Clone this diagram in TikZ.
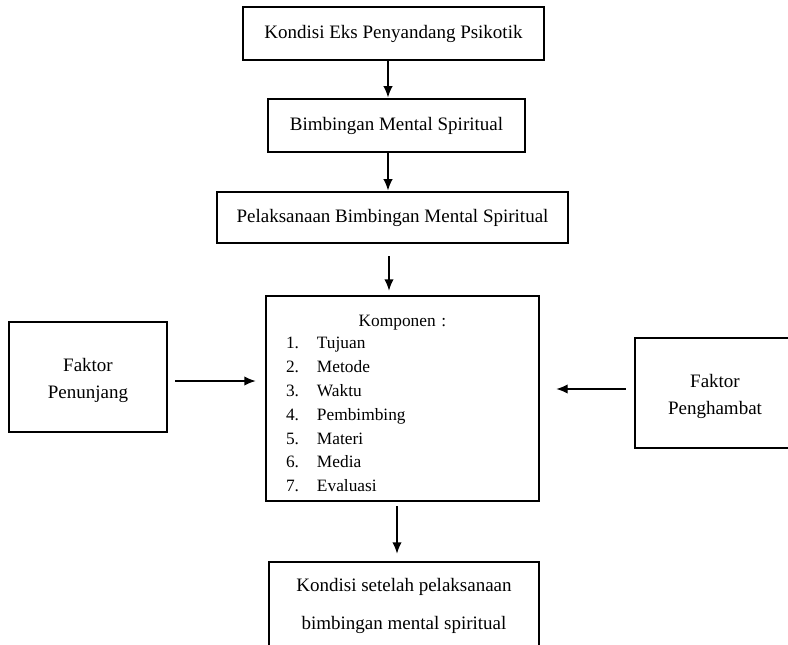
\documentclass[tikz,border=0pt]{standalone}
\usepackage{fontspec}
\setmainfont{Liberation Serif}
\usetikzlibrary{arrows.meta}
\newcommand{\ganjal}[1]{\rule{0pt}{#1}}

\begin{document}
\begin{tikzpicture}[x=0.75pt,y=-0.75pt,>={Latex[length=8.5pt,width=7pt]},
    kotak/.style={draw,line width=2.2pt,inner sep=0pt,align=center,
      font=\fontsize{14.25}{20.25}\selectfont},
    panah/.style={->,line width=1pt}]
    \useasboundingbox (0,0) rectangle (788,645);
    \clip (0,0) rectangle (788,645);
    \node[kotak,minimum width=225.75pt,minimum height=39.75pt] (kondisi)
          at (393.5,33.5) {Kondisi Eks Penyandang Psikotik};
    \node[kotak,minimum width=192.75pt,minimum height=39.75pt] (bimb)
          at (396.5,125.5) {Bimbingan Mental Spiritual};
    \node[kotak,minimum width=263.25pt,minimum height=38.25pt] (pelak)
          at (392.5,217.5) {Pelaksanaan Bimbingan Mental Spiritual};
    \node[kotak,line width=2pt,minimum width=204.75pt,minimum height=153.75pt,
          text width=174.75pt,inner xsep=15pt,align=left,
          font=\fontsize{13}{17.85}\selectfont] (komp) at (402.5,398.5)
      {\ganjal{16.5pt}\makebox[174.75pt]{Komponen :}\\[-1.35pt]
       \makebox[23.25pt][l]{1.}Tujuan\\
       \makebox[23.25pt][l]{2.}Metode\\
       \makebox[23.25pt][l]{3.}Waktu\\
       \makebox[23.25pt][l]{4.}Pembimbing\\
       \makebox[23.25pt][l]{5.}Materi\\
       \makebox[23.25pt][l]{6.}Media\\
       \makebox[23.25pt][l]{7.}Evaluasi};
    \node[kotak,line width=2pt,minimum width=118.5pt,minimum height=82.5pt]
          (penunjang) at (88,377) {\ganjal{14.5pt}Faktor\\Penunjang};
    \node[kotak,line width=2pt,minimum width=120pt,minimum height=82.5pt]
          (penghambat) at (715,393) {\ganjal{15pt}Faktor\\Penghambat};
    \node[kotak,line width=2pt,minimum width=202.5pt,minimum height=66pt,
          font=\fontsize{14.25}{28.5}\selectfont] (setelah) at (404,606)
      {Kondisi setelah pelaksanaan\\bimbingan mental spiritual};
    \coordinate (jalur1) at (388,0);
    \coordinate (jalur2) at (389,0);
    \coordinate (jalur3) at (397,0);
    \coordinate (jalurkiri) at (0,381);
    \coordinate (jalurkanan) at (0,389);
    \draw (kondisi.south -| jalur1) edge[panah] (bimb.north -| jalur1)
          (bimb.south -| jalur1) edge[panah] (pelak.north -| jalur1)
          (pelak.south -| jalur2) edge[panah,shorten <=9pt,shorten >=3pt] (komp.north -| jalur2)
          (komp.south -| jalur3) edge[panah,shorten <=3pt,shorten >=5.25pt] (setelah.north -| jalur3);
    \draw (penunjang.east |- jalurkiri) edge[panah,shorten <=5.25pt,shorten >=6.75pt] (komp.west |- jalurkiri)
          (penghambat.west |- jalurkanan) edge[panah,shorten <=6pt,shorten >=12pt] (komp.east |- jalurkanan);
\end{tikzpicture}
\end{document}
